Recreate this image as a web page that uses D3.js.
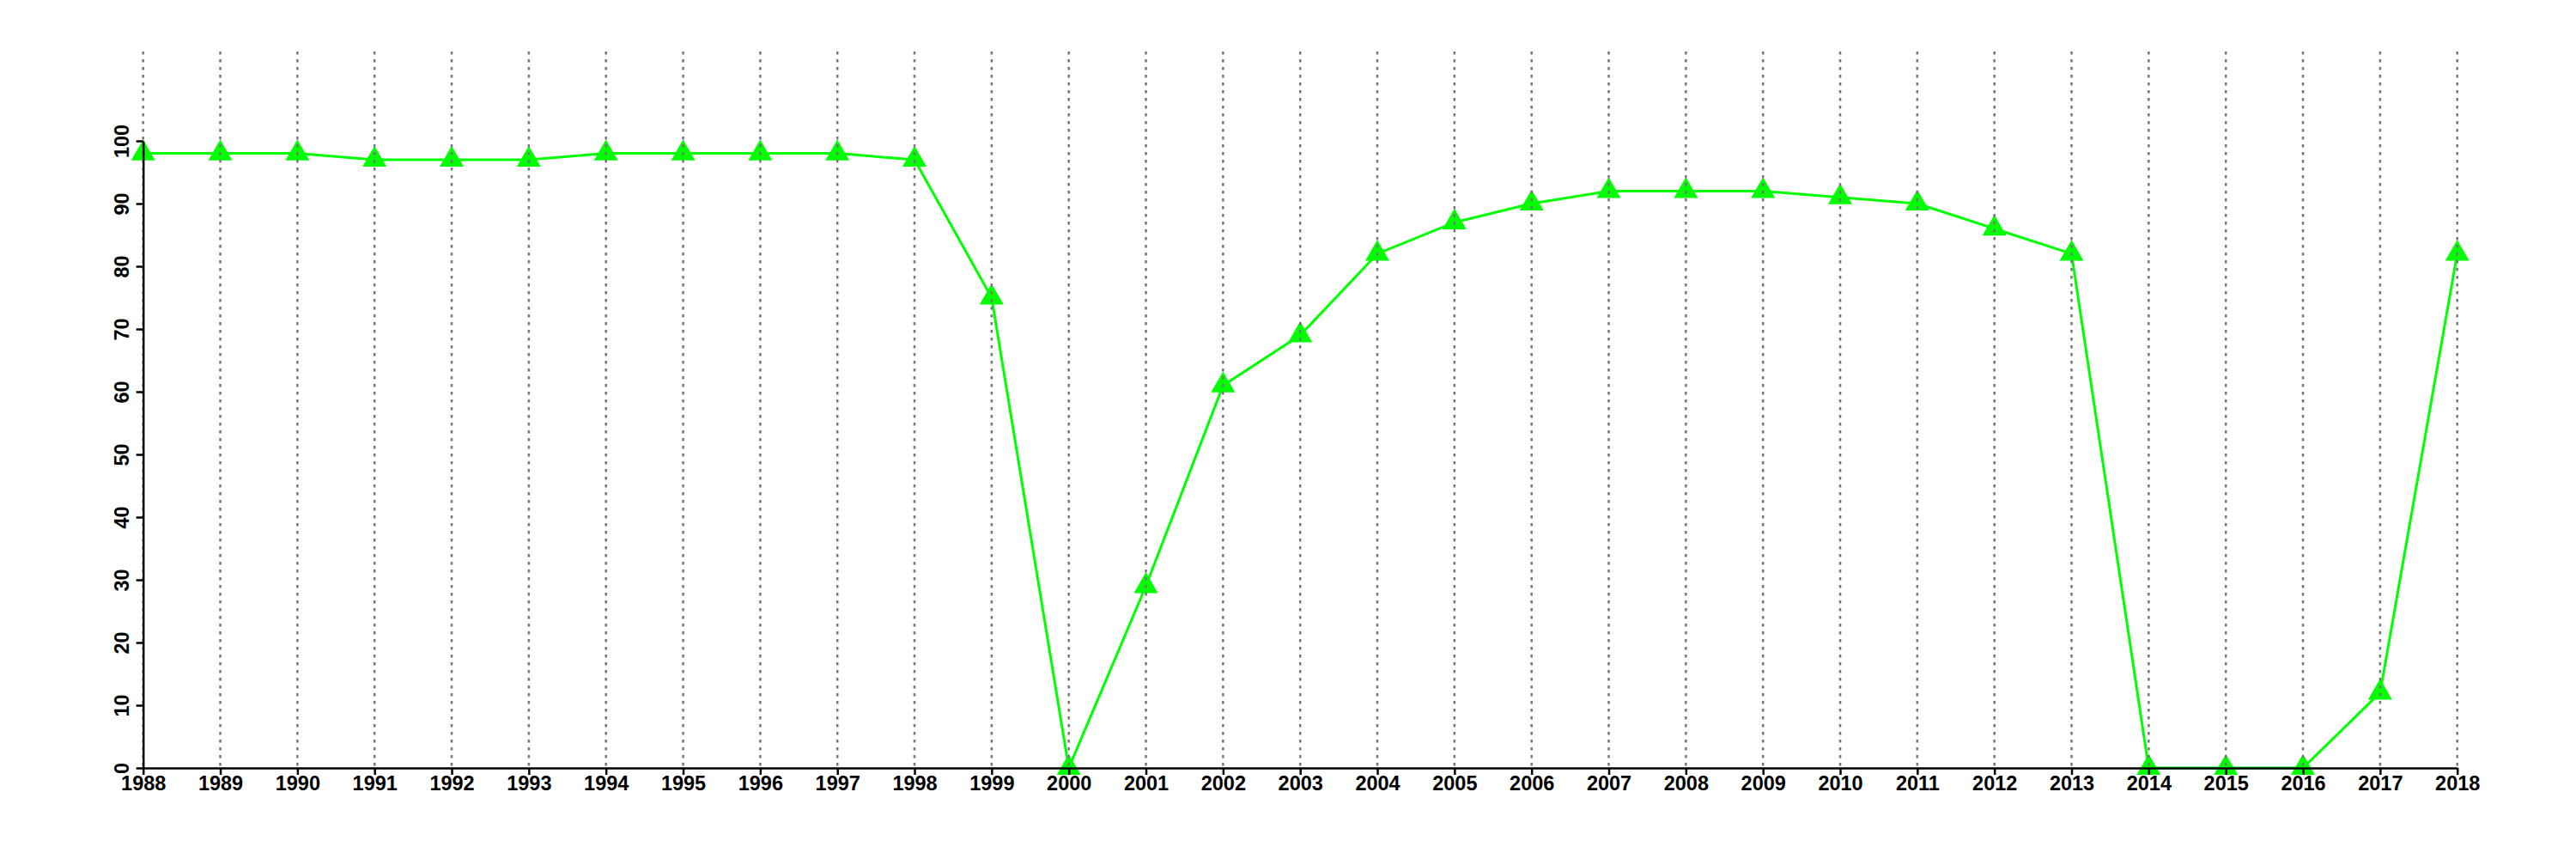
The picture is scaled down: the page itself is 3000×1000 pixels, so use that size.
<!DOCTYPE html>
<html>
<head>
<meta charset="UTF-8">
<style>
  body { margin: 0; background: #fff; }
  text { font-family: "Liberation Sans", Arial, Helvetica, sans-serif; font-weight: bold; }
</style>
</head>
<body>
<svg width="3000" height="1000"></svg>
<script src="https://cdn.jsdelivr.net/npm/d3@7/dist/d3.min.js"></script>
<script>

var years = [1988, 1989, 1990, 1991, 1992, 1993, 1994, 1995, 1996, 1997,
  1998, 1999, 2000, 2001, 2002, 2003, 2004, 2005, 2006, 2007,
  2008, 2009, 2010, 2011, 2012, 2013, 2014, 2015, 2016, 2017, 2018];

var values = [98, 98, 98, 97, 97, 97, 98, 98, 98, 98,
  97, 75, 0, 29, 61, 69, 82, 87, 90, 92,
  92, 92, 91, 90, 86, 82, 0, 0, 0, 12, 82];

var yTicks = [0, 10, 20, 30, 40, 50, 60, 70, 80, 90, 100];

var svg = d3.select("svg"),
  margin = {top: 164, left: 166.7},
  width = 2695,
  height = 730,
  gridTop = -104,
  g = svg.append("g").attr("transform", "translate(" + margin.left + "," + margin.top + ")");

var x = d3.scaleLinear()
  .domain([years[0], years[years.length - 1]])
  .range([0, width]);

var y = d3.scaleLinear()
  .domain([0, 100])
  .range([height, 0]);

var line = d3.line()
  .x(function(d, i) { return x(years[i]); })
  .y(function(d) { return y(d); });

g.append("path")
  .datum(values)
  .attr("fill", "none")
  .attr("stroke", "#00ff00")
  .attr("stroke-width", 3)
  .attr("d", line);

g.selectAll(".pt")
  .data(values)
  .enter().append("path")
    .attr("class", "pt")
    .attr("fill", "#00ff00")
    .attr("transform", function(d, i) { return "translate(" + x(years[i]) + "," + y(d) + ")"; })
    .attr("d", d3.symbol().type(d3.symbolTriangle).size(340));

// dotted vertical grid, drawn over the points like the original
g.selectAll(".grid")
  .data(years)
  .enter().append("line")
    .attr("class", "grid")
    .attr("x1", function(d) { return x(d); })
    .attr("x2", function(d) { return x(d); })
    .attr("y1", gridTop)
    .attr("y2", height)
    .attr("stroke", "#777")
    .attr("stroke-width", 2.5)
    .attr("stroke-dasharray", "3.5,5.5");

var xAxis = g.append("g")
  .attr("transform", "translate(0," + height + ")")
  .call(d3.axisBottom(x).tickValues(years).tickFormat(d3.format("d")).tickSize(8).tickSizeOuter(0));

var yAxis = g.append("g")
  .call(d3.axisLeft(y).tickValues(yTicks).tickSize(8).tickSizeOuter(0));

[xAxis, yAxis].forEach(function(a) {
  a.select(".domain").attr("stroke", "#000").attr("stroke-width", 2.5);
  a.selectAll(".tick line").attr("stroke", "#000").attr("stroke-width", 2.5);
  a.selectAll(".tick text").attr("fill", "#000").style("font-size", "23.5px");
});

xAxis.selectAll(".tick text")
  .attr("y", 0)
  .attr("dy", "26px");

yAxis.selectAll(".tick text")
  .attr("x", 0)
  .attr("dy", 0)
  .attr("text-anchor", "middle")
  .attr("transform", "translate(-16.7,0) rotate(-90)");

</script>
</body>
</html>
